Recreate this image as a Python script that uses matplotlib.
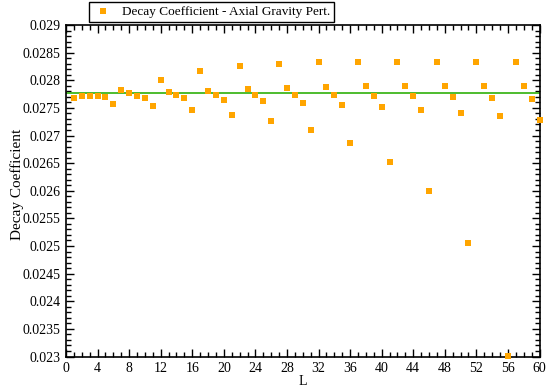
import matplotlib
matplotlib.use('Agg')
import matplotlib.pyplot as plt
from matplotlib.ticker import MultipleLocator

# decay coefficient per multipole order L
L = list(range(1, 61))
decay = [
    0.027673, 0.027710, 0.027715, 0.027715, 0.027691, 0.027565, 0.027829, 0.027764, 0.027721, 0.027685,
    0.027534, 0.028010, 0.027793, 0.027733, 0.027673, 0.027467, 0.028167, 0.027811, 0.027733, 0.027643,
    0.027377, 0.028258, 0.027847, 0.027739, 0.027624, 0.027257, 0.028300, 0.027865, 0.027739, 0.027588,
    0.027108, 0.028325, 0.027878, 0.027727, 0.027558, 0.026864, 0.028330, 0.027890, 0.027715, 0.027516,
    0.026526, 0.028330, 0.027896, 0.027710, 0.027467, 0.025995, 0.028330, 0.027896, 0.027691, 0.027413,
    0.025057, 0.028330, 0.027896, 0.027673, 0.027348, 0.023009, 0.028330, 0.027896, 0.027655, 0.027272,
]
mean_level = 0.027766

plt.rcParams['font.family'] = ['Liberation Serif', 'DejaVu Serif']
plt.rcParams['font.size'] = 10

fig = plt.figure(figsize=(5.46, 3.92), dpi=100)
ax = fig.add_axes([66 / 546, 1 - 356.5 / 392, (539.5 - 66) / 546, (356.5 - 25) / 392])

ax.axhline(mean_level, color='#3fb61e', linewidth=1.3, zorder=2)
ax.plot(L, decay, linestyle='none', marker='s', markersize=4.2,
        color='#ffa500', markeredgewidth=0, clip_on=False, zorder=3,
        label='Decay Coefficient - Axial Gravity Pert.')

ax.set_xlim(0, 60)
ax.set_ylim(0.023, 0.029)
ax.xaxis.set_major_locator(MultipleLocator(4))
ax.xaxis.set_minor_locator(MultipleLocator(1))
ax.yaxis.set_major_locator(MultipleLocator(0.0005))
ax.yaxis.set_minor_locator(MultipleLocator(0.0001))
ax.yaxis.set_major_formatter(plt.FuncFormatter(lambda v, p: ('%.4f' % v).rstrip('0')))

ax.tick_params(which='both', direction='in', top=True, right=True, width=1.0, labelsize=10)
ax.tick_params(which='major', length=6, pad=4)
ax.tick_params(which='minor', length=3.5)
for s in ax.spines.values():
    s.set_linewidth(1.2)

ax.set_xlabel('L', labelpad=0)
ax.set_ylabel('Decay Coefficient', fontsize=11)
ax.yaxis.set_label_coords(-0.088, 0.52)

leg = ax.legend(loc='upper left', bbox_to_anchor=(89 / 546, 1 - 2 / 392),
                bbox_transform=fig.transFigure, borderaxespad=0,
                fancybox=False, framealpha=1, edgecolor='black',
                handlelength=1.5, handletextpad=0.7, borderpad=0.3, fontsize=9.5)
leg.get_frame().set_linewidth(1.0)

fig.savefig('out.png', dpi=100)
plt.close('all')
